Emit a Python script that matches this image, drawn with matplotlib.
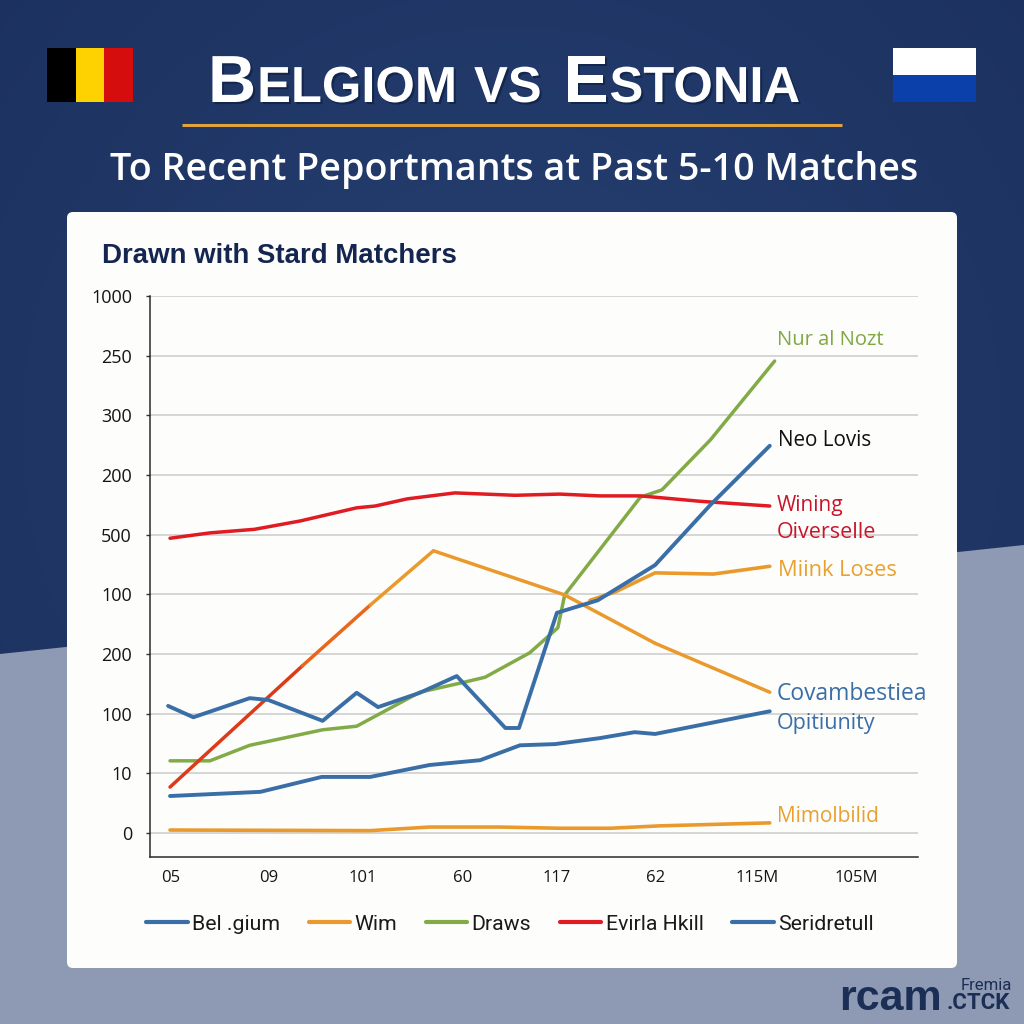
import numpy as np
import matplotlib
matplotlib.use("Agg")
import matplotlib.pyplot as plt
from matplotlib import font_manager
from matplotlib.patches import Polygon, FancyBboxPatch, Rectangle
from matplotlib.lines import Line2D
import matplotlib.patheffects as pe

# ---------- data ----------
y_tick_labels = ["0", "10", "100", "200", "100", "500", "200", "300", "250", "1000"]
y_ticks = [0, 10, 20, 30, 40, 50, 60, 70, 80, 90]
x_tick_labels = ["05", "09", "101", "60", "117", "62", "115M", "105M"]
x_ticks = [0, 10, 19.7, 30, 39.7, 49.8, 60.3, 70.5]

red_x = [-0.1, 4.0, 8.6, 13.3, 19.1, 21.0, 24.3, 29.2, 35.4, 40.0, 44.1, 48.3, 54.4, 61.6]
red_y = [49.4, 50.3, 50.9, 52.3, 54.5, 54.8, 56.0, 57.0, 56.6, 56.8, 56.5, 56.5, 55.6, 54.8]

wim_x = [-0.1, 13.5, 20.5, 27.0, 40.5, 49.8, 61.6]
wim_y = [7.7, 28.0, 38.2, 47.3, 39.9, 31.8, 23.6]

mink_x = [43.1, 45.7, 49.8, 55.8, 61.6]
mink_y = [39.0, 40.4, 43.6, 43.4, 44.7]

green_x = [-0.1, 4.0, 8.1, 15.6, 19.1, 25.6, 29.7, 32.3, 36.9, 39.8, 40.5, 48.3, 50.5, 55.5, 62.1]
green_y = [12.1, 12.1, 14.7, 17.3, 17.9, 23.6, 25.1, 26.1, 30.2, 34.4, 39.9, 56.3, 57.5, 65.9, 79.1]

belgium_x = [-0.3, 2.3, 8.1, 10.0, 15.6, 19.1, 21.3, 25.6, 29.4, 34.4, 35.8, 39.7, 43.9, 49.8, 55.5, 61.6]
belgium_y = [21.3, 19.4, 22.6, 22.3, 18.8, 23.5, 21.1, 23.5, 26.3, 17.6, 17.6, 36.9, 39.0, 44.9, 55.0, 64.9]

lower_x = [-0.1, 9.2, 15.5, 20.5, 26.6, 31.8, 35.9, 39.5, 44.1, 47.7, 49.8, 61.6]
lower_y = [6.2, 6.9, 9.4, 9.4, 11.4, 12.2, 14.7, 14.9, 15.9, 16.9, 16.6, 20.4]

flat_x = [-0.1, 20.5, 26.6, 33.8, 40.0, 45.2, 50.3, 61.6]
flat_y = [0.5, 0.4, 1.0, 1.0, 0.8, 0.8, 1.2, 1.7]

legend_labels = ["Bel .gium", "Wim", "Draws", "Evirla Hkill", "Seridretull"]

BLUE = "#3a6ea6"
ORANGE = "#ea9a2c"
GREEN = "#82ab47"
RED = "#e01b22"
NAVY = "#14254f"

installed = {f.name for f in font_manager.fontManager.ttflist}
has_narrow = "Liberation Sans Narrow" in installed

# ---------- figure and pixel overlay ----------
fig = plt.figure(figsize=(10.24, 10.24), dpi=100)
bg = fig.add_axes([0, 0, 1, 1], zorder=0)
bg.set_xlim(0, 1024)
bg.set_ylim(1024, 0)
bg.axis("off")

yy, xx = np.mgrid[0:256, 0:256] / 255.0
d = np.clip(np.hypot(xx - 0.5, yy - 0.42) / 0.72, 0, 1)
c0 = np.array([0x27, 0x41, 0x72]) / 255
c1 = np.array([0x1b, 0x30, 0x5e]) / 255
grad = c0[None, None, :] * (1 - d[..., None]) + c1[None, None, :] * d[..., None]
bg.imshow(grad, extent=(0, 1024, 1024, 0), aspect="auto", zorder=0)
bg.set_xlim(0, 1024)
bg.set_ylim(1024, 0)

bg.add_patch(Polygon([(0, 654), (1024, 545), (1024, 1024), (0, 1024)],
                     closed=True, fc="#8e99b3", ec="none", zorder=1))
bg.add_patch(FancyBboxPatch((71, 216), 882, 748, boxstyle="round,pad=4,rounding_size=6",
                            fc="#fdfdfc", ec="none", zorder=2))

# flags
for x0, x1, col in [(47, 76, "#000000"), (76, 104, "#fdd200"), (104, 133, "#d60d0d")]:
    bg.add_patch(Rectangle((x0, 48), x1 - x0, 54, fc=col, ec="none", zorder=3))
bg.add_patch(Rectangle((893, 48), 83, 27, fc="#ffffff", ec="none", zorder=3))
bg.add_patch(Rectangle((893, 75), 83, 27, fc="#0b3fa9", ec="none", zorder=3))

# title in small capitals
shadow = [pe.withSimplePatchShadow(offset=(1.5, -1.5), shadow_rgbFace="#0b1a3a", alpha=0.6)]
renderer = fig.canvas.get_renderer()
BIG, SMALL = 48, 36.5
def word(x, parts):
    for s, size in parts:
        t = bg.text(x, 102, s, fontsize=size, fontweight="bold", family="Liberation Sans",
                    color="white", va="baseline", ha="left", zorder=5, path_effects=shadow)
        x = bg.transData.inverted().transform(t.get_window_extent(renderer))[1, 0] + 1
word(208, [("B", BIG), ("ELGIOM", SMALL)])
word(474, [("VS", SMALL)])
word(564, [("E", BIG), ("STONIA", SMALL)])

bg.plot([182, 842], [125, 125], color="#e2a23c", lw=2.2, solid_capstyle="butt", zorder=4)
bg.text(514, 170, "To Recent Peportmants at Past 5-10 Matches", fontsize=27.1, fontweight="semibold",
        family="Open Sans", color="white", ha="center", va="center", zorder=5)
bg.text(102, 256, "Drawn with Stard Matchers", fontsize=19.9, fontweight="bold",
        family="Liberation Sans", color=NAVY, ha="left", va="center", zorder=5)

# watermark
if has_narrow:
    bg.text(839, 1010, "rcam", fontsize=39, fontweight="bold", family="Liberation Sans Narrow",
            color="#1b2e55", ha="left", va="baseline", zorder=5)
else:
    bg.text(839, 1010, "rcam", fontsize=31, fontweight="bold", family="Liberation Sans",
            color="#1b2e55", ha="left", va="baseline", zorder=5)
bg.text(961, 985, "Fremia", fontsize=12, family="Roboto", color="#1b2e55", ha="left", va="center", zorder=5)
bg.text(947, 1003, ".CTCK", fontsize=16, fontweight="bold", family="Roboto", color="#1b2e55",
        ha="left", va="center", zorder=5)

# ---------- chart ----------
ax = fig.add_axes([150 / 1024, (1024 - 857) / 1024, 768 / 1024, 561 / 1024], zorder=3)
ax.patch.set_alpha(0)
ax.set_xlim(-2.16, 76.85)
ax.set_ylim(-4.02, 90)
ax.set_yticks(y_ticks)
ax.set_yticklabels(y_tick_labels)
ax.set_xticks(x_ticks)
ax.set_xticklabels(x_tick_labels)
ax.tick_params(axis="y", length=3, width=1.0, color="#333333", labelsize=13, pad=10, labelcolor="#151515")
ax.tick_params(axis="x", length=0, labelsize=12, pad=9, labelcolor="#151515")
for lab in ax.get_xticklabels() + ax.get_yticklabels():
    lab.set_family("Open Sans")
ax.grid(axis="y", color="#cfcfcf", lw=1.2)
ax.set_axisbelow(True)
for s in ("top", "right"):
    ax.spines[s].set_visible(False)
for s in ("left", "bottom"):
    ax.spines[s].set_color("#2a2a2a")
    ax.spines[s].set_linewidth(1.1)

kw = dict(solid_capstyle="round", solid_joinstyle="round")
ax.plot(flat_x, flat_y, color=ORANGE, lw=2.6, **kw)
ax.plot(lower_x, lower_y, color=BLUE, lw=2.8, **kw)
ax.plot(mink_x, mink_y, color=ORANGE, lw=2.6, **kw)
ax.plot(green_x, green_y, color=GREEN, lw=2.5, **kw)
ax.plot(red_x, red_y, color=RED, lw=2.5, **kw)
# the rising stretch fades from red into orange
seg_cols = ["#dc3a18", "#e8671c", ORANGE, ORANGE, ORANGE, ORANGE]
for i, col in enumerate(seg_cols):
    ax.plot(wim_x[i:i + 2], wim_y[i:i + 2], color=col, lw=2.5, **kw)
ax.plot(belgium_x, belgium_y, color=BLUE, lw=2.8, **kw)

# direct labels
for x, y, s, col, size in [
    (777, 340, "Nur al Nozt", "#7fa843", 14.5),
    (778, 440, "Neo Lovis", "#111111", 14.9),
    (777, 506, "Wining", "#c8152b", 15),
    (777, 532, "Oiverselle", "#c8152b", 15.5),
    (778, 570, "Miink Loses", "#e8a030", 15.7),
    (777, 694, "Covambestiea", BLUE, 16.5),
    (777, 723, "Opitiunity", BLUE, 15.5),
    (777, 816, "Mimolbilid", "#e8a030", 15),
]:
    ax.text(x, y, s, fontsize=size, family="Open Sans", color=col, ha="left", va="center",
            transform=bg.transData, clip_on=False, zorder=6)

# legend
handles = [Line2D([], [], color=c, lw=3.0, solid_capstyle="round")
           for c in (BLUE, ORANGE, GREEN, RED, BLUE)]
leg = ax.legend(handles, legend_labels, ncol=5, frameon=False, loc="center",
                bbox_to_anchor=(510 / 1024, (1024 - 924) / 1024), bbox_transform=fig.transFigure,
                prop={"family": "Roboto", "size": 15.3}, labelcolor="#1a1a1a",
                handlelength=1.95, handletextpad=0.2, columnspacing=1.35, borderpad=0)

fig.savefig("out.png", dpi=100)
